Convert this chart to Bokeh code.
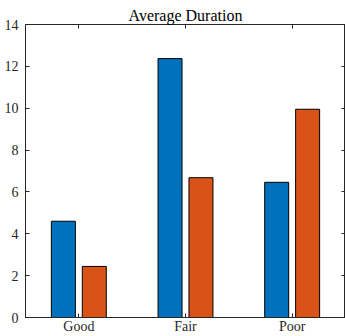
from bokeh.plotting import figure
from bokeh.models import Range1d, LinearAxis, FixedTicker, ColumnDataSource
from bokeh.transform import dodge
from bokeh.embed import file_html
from bokeh.resources import INLINE

categories = ["Good", "Fair", "Poor"]
series_a = [4.6, 12.37, 6.46]
series_b = [2.44, 6.68, 9.95]
y_ticks = [0, 2, 4, 6, 8, 10, 12, 14]

FONT = "Liberation Serif"
AX = "#262626"

xs = list(range(1, len(categories) + 1))
src = ColumnDataSource(dict(x=xs, a=series_a, b=series_b))

p = figure(width=345, height=336, output_backend="svg", toolbar_location=None,
           x_range=Range1d(0.5, 3.5), y_range=Range1d(0, 14),
           min_border_left=25, min_border_right=0, min_border_top=24, min_border_bottom=0,
           x_axis_location=None, y_axis_location=None)
p.grid.visible = False
p.outline_line_color = AX
p.background_fill_color = "white"
p.border_fill_color = "white"

p.title.text = "Average Duration"
p.title.align = "center"
p.title.text_font = FONT
p.title.text_font_size = "16px"
p.title.text_font_style = "normal"
p.title.text_color = "black"
p.title.standoff = 2

off = 0.145
w = 0.225
p.vbar(x=dodge("x", -off), top="a", width=w, source=src,
       fill_color="#0072BD", line_color="black", line_width=1)
p.vbar(x=dodge("x", off), top="b", width=w, source=src,
       fill_color="#D95319", line_color="black", line_width=1)

def style(ax, labels=True):
    ax.axis_line_color = AX
    ax.major_tick_line_color = AX
    ax.minor_tick_line_color = None
    ax.major_tick_in = 4
    ax.major_tick_out = 0
    ax.major_label_text_font = FONT
    ax.major_label_text_font_size = "14px"
    ax.major_label_text_color = "#262626"
    if not labels:
        ax.major_label_text_font_size = "0px"
        ax.major_label_text_color = None

xl = LinearAxis(ticker=FixedTicker(ticks=xs))
xl.major_label_overrides = {i: c for i, c in zip(xs, categories)}
style(xl)
xl.major_label_standoff = 1
p.add_layout(xl, "below")

xt = LinearAxis(ticker=FixedTicker(ticks=xs))
style(xt, False)
p.add_layout(xt, "above")

yl = LinearAxis(ticker=FixedTicker(ticks=y_ticks))
style(yl)
yl.major_label_standoff = 7
p.add_layout(yl, "left")

yr = LinearAxis(ticker=FixedTicker(ticks=y_ticks))
style(yr, False)
p.add_layout(yr, "right")

open("out.html", "w").write(file_html(p, INLINE))
